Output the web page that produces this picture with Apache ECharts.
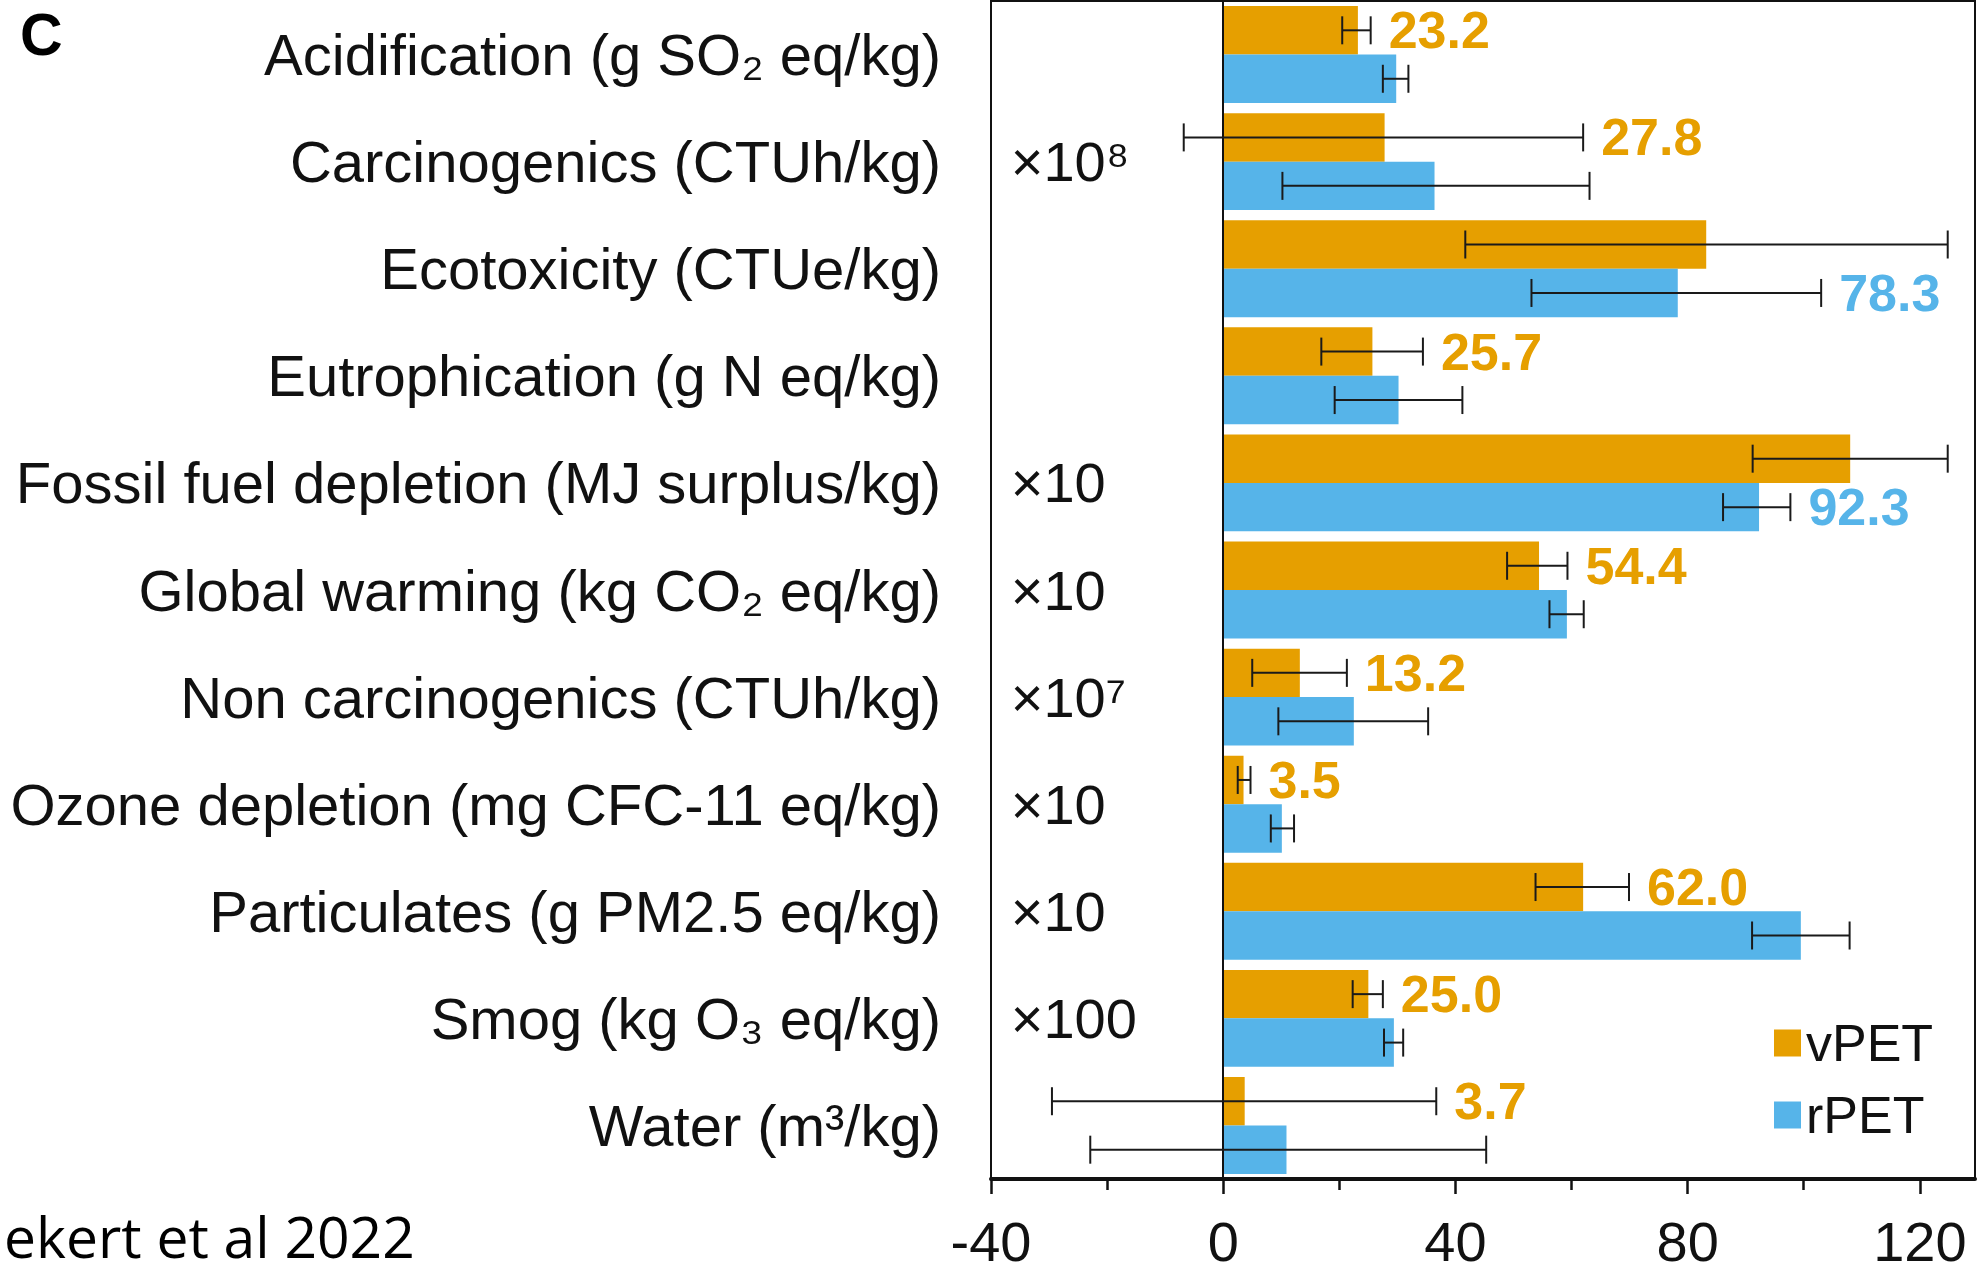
<!DOCTYPE html>
<html>
<head>
<meta charset="utf-8">
<script src="https://cdn.jsdelivr.net/npm/echarts@6/dist/echarts.min.js"></script>
<style>
  html, body { margin: 0; padding: 0; background: #ffffff; }
  #chart { width: 1979px; height: 1274px; }
</style>
</head>
<body>
<div id="chart"></div>
<script>
// Impact categories, top to bottom
const categories = [
  'Acidification (g SO\u2082 eq/kg)',
  'Carcinogenics (CTUh/kg)',
  'Ecotoxicity (CTUe/kg)',
  'Eutrophication (g N eq/kg)',
  'Fossil fuel depletion (MJ surplus/kg)',
  'Global warming (kg CO\u2082 eq/kg)',
  'Non carcinogenics (CTUh/kg)',
  'Ozone depletion (mg CFC-11 eq/kg)',
  'Particulates (g PM2.5 eq/kg)',
  'Smog (kg O\u2083 eq/kg)',
  'Water (m\u00b3/kg)'
];

// Multipliers applied to each row's values
const scaleNotes = ['', '\u00d710\u2078', '', '', '\u00d710', '\u00d710', '\u00d710\u2077', '\u00d710', '\u00d710', '\u00d7100', ''];

// Virgin PET
const vPET     = [23.2, 27.8, 83.2, 25.7, 108.0, 54.4, 13.2, 3.5, 62.0, 25.0, 3.7];
const vPETLow  = [20.5, -6.8, 41.7, 16.9, 91.2, 48.9, 5.0, 2.5, 53.8, 22.3, -29.5];
const vPETHigh = [25.4, 62.0, 124.8, 34.4, 124.8, 59.3, 21.3, 4.7, 69.9, 27.5, 36.7];

// Recycled PET
const rPET     = [29.8, 36.4, 78.3, 30.2, 92.3, 59.2, 22.5, 10.1, 99.5, 29.4, 10.9];
const rPETLow  = [27.5, 10.2, 53.1, 19.2, 86.1, 56.2, 9.5, 8.2, 91.1, 27.7, -22.9];
const rPETHigh = [31.9, 63.1, 103.0, 41.2, 97.7, 62.1, 35.3, 12.2, 107.9, 31.0, 45.3];

// Which series carries the printed value in each row
const labelledSeries = ['vPET', 'vPET', 'rPET', 'vPET', 'rPET', 'vPET', 'vPET', 'vPET', 'vPET', 'vPET', 'vPET'];

// Axis ticks
const xMajorTicks = [-40, 0, 40, 80, 120];
const xMinorTicks = [-20, 20, 60, 100];

const ORANGE = '#E69F00';
const BLUE = '#56B4E9';
const INK = '#111111';
const FONT = 'Liberation Sans, Arial, Helvetica, sans-serif';
const CAT_GAP = 0.095;

function errorBars(name, order, values, low, high, color) {
  return {
    type: 'custom',
    name: name + ' range',
    z: 5,
    silent: true,
    clip: false,
    encode: { x: [1, 2], y: 0 },
    data: low.map((lo, i) => [i, lo, high[i]]),
    renderItem(params, api) {
      const i = params.dataIndex;
      const cat = api.value(0);
      const band = api.size([0, 1])[1];
      const barW = band * (1 - CAT_GAP) / 2;
      const yc = api.coord([0, cat])[1] + (order === 0 ? -barW / 2 : barW / 2);
      const x1 = api.coord([api.value(1), cat])[0];
      const x2 = api.coord([api.value(2), cat])[0];
      const cap = 14;
      const style = { stroke: '#1a1a1a', lineWidth: 2 };
      const children = [
        { type: 'line', shape: { x1: x1, y1: yc, x2: x2, y2: yc }, style: style },
        { type: 'line', shape: { x1: x1, y1: yc - cap, x2: x1, y2: yc + cap }, style: style },
        { type: 'line', shape: { x1: x2, y1: yc - cap, x2: x2, y2: yc + cap }, style: style }
      ];
      if (labelledSeries[i] === name) {
        children.push({
          type: 'text',
          x: x2 + 18,
          y: yc,
          style: {
            text: values[i].toFixed(1),
            fill: color,
            font: 'bold 52px ' + FONT,
            align: 'left',
            verticalAlign: 'middle'
          }
        });
      }
      return { type: 'group', children: children };
    }
  };
}

const chart = echarts.init(document.getElementById('chart'), null, { renderer: 'svg' });

chart.setOption({
  animation: false,
  backgroundColor: '#ffffff',
  grid: {
    left: 991, right: 4, top: 1, bottom: 95,
    show: true, borderColor: INK, borderWidth: 2,
    outerBoundsMode: 'none'
  },
  legend: {
    data: ['vPET', 'rPET'],
    orient: 'vertical',
    left: 1769, top: 1012,
    icon: 'rect',
    itemWidth: 27, itemHeight: 27, itemGap: 20,
    selectedMode: false,
    textStyle: { fontSize: 52, fontFamily: FONT, color: INK, lineHeight: 52 }
  },
  xAxis: [
    {
      type: 'value', min: -40, max: 129.5, interval: 40, position: 'bottom',
      axisLine: { show: true, onZero: false, lineStyle: { color: INK, width: 4 } },
      axisTick: { show: true, customValues: xMajorTicks, length: 15, lineStyle: { color: INK, width: 2.5 } },
      axisLabel: { customValues: xMajorTicks, fontSize: 56, lineHeight: 44, fontFamily: FONT, color: INK, margin: 40 },
      splitLine: { show: false }
    },
    {
      type: 'value', min: -40, max: 129.5, interval: 20, position: 'bottom', gridIndex: 0,
      axisLine: { show: false },
      axisTick: { show: true, customValues: xMinorTicks, length: 11, lineStyle: { color: INK, width: 2.5 } },
      axisLabel: { show: false },
      splitLine: { show: false }
    }
  ],
  yAxis: {
    type: 'category',
    data: categories,
    inverse: true,
    axisLine: { show: true, onZero: false, lineStyle: { color: INK, width: 2 } },
    axisTick: { show: false },
    axisLabel: { fontSize: 58, fontFamily: FONT, color: INK, margin: 50 },
    splitLine: { show: false }
  },
  graphic: [
    { type: 'text', x: 20, y: 35, style: { text: 'C', font: 'bold 59px ' + FONT, fill: '#000', verticalAlign: 'middle' } },
    { type: 'text', x: 4, y: 1236, style: { text: 'ekert et al 2022', font: '57px Open Sans, sans-serif', lineHeight: 44, fill: '#000', verticalAlign: 'middle' } }
  ],
  series: [
    {
      name: 'vPET', type: 'bar', data: vPET,
      barGap: '0%', barCategoryGap: (CAT_GAP * 100) + '%',
      itemStyle: { color: ORANGE },
      markLine: {
        silent: true, symbol: ['none', 'none'], label: { show: false },
        lineStyle: { color: INK, width: 2, type: 'solid' },
        data: [{ xAxis: 0 }]
      }
    },
    {
      name: 'rPET', type: 'bar', data: rPET,
      barGap: '0%', barCategoryGap: (CAT_GAP * 100) + '%',
      itemStyle: { color: BLUE }
    },
    errorBars('vPET', 0, vPET, vPETLow, vPETHigh, ORANGE),
    errorBars('rPET', 1, rPET, rPETLow, rPETHigh, BLUE),
    {
      type: 'scatter', name: 'scale', silent: true, z: 6,
      symbolSize: 0,
      itemStyle: { opacity: 1 },
      data: scaleNotes.map((t, i) => (t ? [-36.6, i, t] : null)).filter(Boolean),
      label: {
        show: true, position: 'right', distance: 0, opacity: 1,
        formatter: p => p.data[2],
        fontSize: 56, fontFamily: FONT, color: INK
      }
    }
  ]
});
</script>
</body>
</html>
